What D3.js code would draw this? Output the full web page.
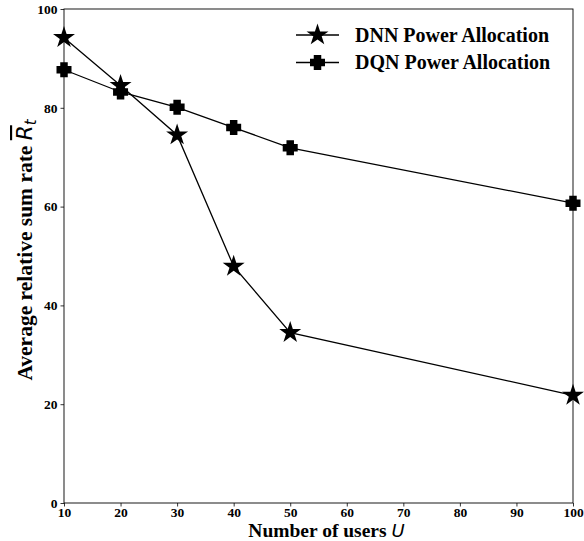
<!DOCTYPE html>
<html>
<head>
<meta charset="utf-8">
<script src="https://cdn.jsdelivr.net/npm/d3@7"></script>
<style>
  html, body { margin: 0; padding: 0; background: #fff; }
  svg { display: block; }
</style>
</head>
<body>
<svg id="chart" width="584" height="541"></svg>
<script>
// Number of users on the x axis
const users = [10, 20, 30, 40, 50, 100];
// Average relative sum rate for each allocation scheme
const dnnRate = [94.2, 84.5, 74.5, 47.9, 34.5, 21.8];
const dqnRate = [87.7, 83.2, 80.1, 76.0, 71.9, 60.7];
const seriesNames = ["DNN Power Allocation", "DQN Power Allocation"];
const xTicks = [10, 20, 30, 40, 50, 60, 70, 80, 90, 100];
const yTicks = [0, 20, 40, 60, 80, 100];

const svg = d3.select("#chart");
const margin = { left: 64, right: 11, top: 9, bottom: 38 };
const W = 584, H = 541;
const x = d3.scaleLinear().domain([10, 100]).range([margin.left, W - margin.right]);
const y = d3.scaleLinear().domain([0, 100]).range([H - margin.bottom, margin.top]);

const serif = "'Liberation Serif', 'Times New Roman', serif";

// x axis
const gx = svg.append("g")
  .attr("transform", `translate(0,${y(0)})`)
  .call(d3.axisBottom(x).tickValues(xTicks).tickSize(3.5).tickPadding(1));
// y axis
const gy = svg.append("g")
  .attr("transform", `translate(${x(10)},0)`)
  .call(d3.axisLeft(y).tickValues(yTicks).tickSize(3.5).tickPadding(3));

[gx, gy].forEach(g => {
  g.select(".domain").remove();
  g.selectAll("line").attr("stroke", "#000").attr("stroke-width", 0.8);
  g.selectAll("text")
    .attr("fill", "#000")
    .style("font-family", serif)
    .style("font-weight", "bold")
    .style("font-size", "13.5px");
});

// frame
svg.append("rect")
  .attr("x", x(10)).attr("y", y(100))
  .attr("width", x(100) - x(10)).attr("height", y(0) - y(100))
  .attr("fill", "none").attr("stroke", "#000").attr("stroke-width", 0.9);

const line = d3.line().x((d, i) => x(users[i])).y(d => y(d));

const starPath = d3.symbol().type(d3.symbolStar).size(150)();
// filled plus ("P" marker)
function plusPath(s) {
  const a = s / 2, b = s / 4;
  return `M${-b},${-a}H${b}V${-b}H${a}V${b}H${b}V${a}H${-b}V${b}H${-a}V${-b}H${-b}Z`;
}
const pPath = plusPath(15);

const series = [
  { values: dnnRate, marker: starPath },
  { values: dqnRate, marker: pPath }
];

series.forEach(s => {
  svg.append("path")
    .datum(s.values)
    .attr("d", line)
    .attr("fill", "none")
    .attr("stroke", "#000")
    .attr("stroke-width", 1.3);
  svg.append("g").selectAll("path")
    .data(s.values)
    .join("path")
    .attr("d", s.marker)
    .attr("transform", (d, i) => `translate(${x(users[i])},${y(d)})`)
    .attr("fill", "#000");
});

// legend
const legend = svg.append("g");
seriesNames.forEach((name, i) => {
  const ly = 35 + i * 27.5;
  legend.append("line")
    .attr("x1", 296).attr("x2", 339).attr("y1", ly).attr("y2", ly)
    .attr("stroke", "#000").attr("stroke-width", 1.3);
  legend.append("path")
    .attr("d", series[i].marker)
    .attr("transform", `translate(317.5,${ly})`)
    .attr("fill", "#000");
  legend.append("text")
    .attr("x", 355).attr("y", ly + 6.5)
    .style("font-family", serif)
    .style("font-weight", "bold")
    .style("font-size", "20px")
    .text(name);
});

// x label
const xl = svg.append("text")
  .attr("x", (x(10) + x(100)) / 2 + 8).attr("y", 536.6)
  .attr("text-anchor", "middle")
  .style("font-family", serif)
  .style("font-weight", "bold")
  .style("font-size", "19.5px");
xl.append("tspan").text("Number of users ");
xl.append("tspan").style("font-family", "'DejaVu Sans', sans-serif")
  .style("font-style", "italic").style("font-weight", "normal")
  .style("font-size", "18px").text("U");

// y label
const yl = svg.append("text")
  .attr("transform", `translate(32,${(y(0) + y(100)) / 2 - 6}) rotate(-90)`)
  .attr("text-anchor", "middle")
  .style("font-family", serif)
  .style("font-weight", "bold")
  .style("font-size", "21.5px");
yl.append("tspan").text("Average relative sum rate ");
yl.append("tspan").style("font-family", "'DejaVu Sans', sans-serif")
  .style("font-style", "italic").style("font-weight", "normal")
  .style("text-decoration", "overline").text("R");
yl.append("tspan").style("font-family", "'DejaVu Sans', sans-serif")
  .style("font-style", "italic").style("font-weight", "normal")
  .style("font-size", "15px").attr("dy", 4).text("t");
</script>
</body>
</html>
